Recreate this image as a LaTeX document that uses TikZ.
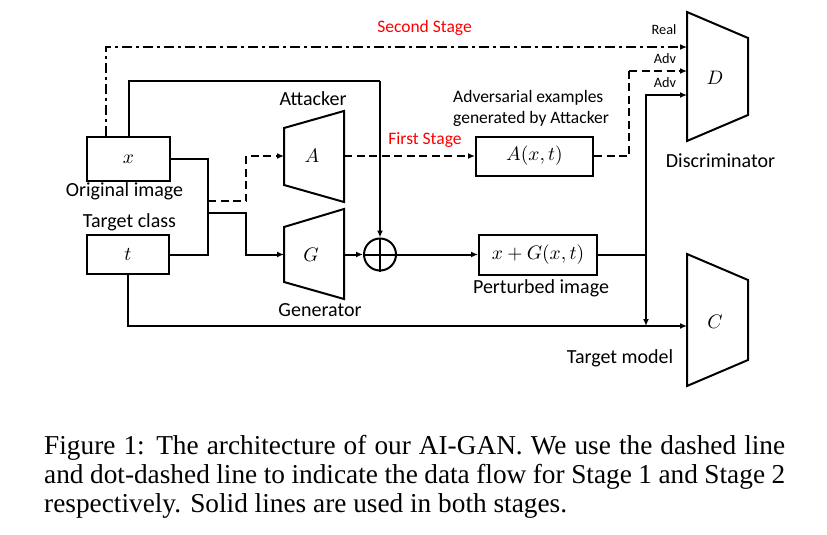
\documentclass[tikz,border=0pt]{standalone}
\usepackage{fontspec}
\usepackage{graphicx}
\setmainfont{Carlito}
\newfontfamily\capfont{Liberation Serif}
\usetikzlibrary{arrows.meta,calc}
\definecolor{stagered}{RGB}{255,0,0}
\newcommand{\mylab}[1]{\scalebox{1.95}{$#1$}}
\tikzset{
  ln/.style={line width=2pt},
  arr/.style={ln,-{Latex[length=7pt,width=6pt]}},
  dsh/.style={dash pattern=on 8pt off 4.5pt},
  dshdot/.style={line width=2.8pt,dash pattern=on 10pt off 4pt on 3pt off 4pt},
  box/.style={draw,ln,rectangle,inner sep=0pt},
  lbl/.style={font=\fontsize{20}{24}\selectfont,inner sep=0pt},
  slbl/.style={font=\fontsize{17.5}{21}\selectfont,inner sep=0pt},
  tlbl/.style={font=\fontsize{14.3}{17}\selectfont,inner sep=0pt},
  redlbl/.style={slbl,text=stagered},
  mth/.style={inner sep=0pt},
  trap/.style={ln,line join=miter},
  captxt/.style={anchor=base west,inner sep=0pt,font=\capfont\fontsize{27.3}{29}\selectfont},
}
\begin{document}
\begin{tikzpicture}[x=1pt,y=-1pt]
\useasboundingbox (0,0) rectangle (827,535);

% boxes
\node[box,minimum width=83pt,minimum height=44pt,mth] (xbox) at (128.5,159) {\mylab{x}};
\node[box,minimum width=82pt,minimum height=39pt,mth] (tbox) at (128,254.5) {\mylab{t}};
\node[box,minimum width=117pt,minimum height=39pt,mth] (ax) at (534.5,156) {\mylab{A(x,t)}};
\node[box,minimum width=118pt,minimum height=40pt,mth] (xg) at (538,254.5) {\mylab{x+G(x,t)}};
\node[draw,ln,circle,minimum size=32pt,inner sep=0pt] (sum) at (380,254.5) {};
\draw[ln] (sum.north) -- (sum.south) (sum.west) -- (sum.east);

% trapezoids
\draw[trap] (284,128) -- (344,111) -- (344,202) -- (284,185) -- cycle;
\draw[trap] (284,227) -- (344,209) -- (344,299) -- (284,282) -- cycle;
\draw[trap] (687,12) -- (748,38) -- (748,115) -- (687,141) -- cycle;
\draw[trap] (687,254) -- (748,280) -- (748,360) -- (687,386) -- cycle;
\node[mth] (A) at (312,156) {\mylab{A}};
\node[mth] (G) at (311,255) {\mylab{G}};
\node[mth] (D) at (715,78) {\mylab{D}};
\node[mth] (C) at (715,322) {\mylab{C}};

% connection points
\coordinate (Ain) at (284,156);
\coordinate (Aout) at (344,156);
\coordinate (Gin) at (284,254.5);
\coordinate (Gout) at (344,254.5);
\coordinate (Dreal) at (687,47);
\coordinate (Dadv1) at (687,71);
\coordinate (Dadv2) at (687,95);
\coordinate (Cin) at (687,326);
\coordinate (top1) at (380,81);
\coordinate (jt) at (208,254.5);
\coordinate (ja) at (208,201);
\coordinate (ba) at (246,201);
\coordinate (jg) at (208,213);
\coordinate (bg) at (246,213);
\coordinate (jp) at (646,254.5);
\coordinate (jc) at (646,326);
\coordinate (ka) at (629,71);

% connectors
\draw[arr,dshdot] ([xshift=-22.5pt]xbox.north) |- (Dreal);
\draw[ln] (xbox.north) |- (top1);
\draw[arr] (top1) -- (sum.north);
\draw[ln] (xbox.east) -| (jt) -- (tbox.east);
\draw[arr,dsh] (ja) -- (ba) |- (Ain);
\draw[arr] (jg) -- (bg) |- (Gin);
\draw[arr] (Gout) -- (sum.west);
\draw[arr] (sum.east) -- (xg.west);
\draw[ln] (xg.east) -- (jp);
\draw[arr] (jp) |- (Dadv2);
\draw[arr] (jp) -- (jc);
\draw[arr] (tbox.south) |- (Cin);
\draw[arr,dsh] (Aout) -- (ax.west);
\draw[ln,dsh] (ax.east) -| (ka);
\draw[arr,dsh] (ka) -- (Dadv1);

% labels
\node[lbl] (l1) at (124.5,191) {Original image};
\node[lbl] (l2) at (129.5,222.5) {Target class};
\node[lbl] (l3) at (313,99) {Attacker};
\node[lbl] (l4) at (320,310) {Generator};
\node[lbl] (l5) at (541,288) {Perturbed image};
\node[lbl] (l6) at (620,358) {Target model};
\node[lbl] (l7) at (720.5,161) {Discriminator};
\node[slbl,align=left,anchor=west] (l8) at (453,108.5) {Adversarial examples\\generated by Attacker};
\node[redlbl] (l9) at (425,140) {First Stage};
\node[redlbl] (l10) at (424.5,28) {Second Stage};
\node[tlbl] (l11) at (664,30) {Real};
\node[tlbl] (l12) at (665,59) {Adv};
\node[tlbl] (l13) at (665,83) {Adv};

% caption
\node[captxt] (cap1) at (44,454)
  {\makebox[741pt][s]{Figure 1: The architecture of our AI-GAN. We use the dashed line}};
\node[captxt] (cap2) at (44,483.5)
  {\makebox[741pt][s]{and dot-dashed line to indicate the data flow for Stage 1 and Stage 2}};
\node[captxt] (cap3) at (44,512.5)
  {respectively. Solid lines are used in both stages.};
\end{tikzpicture}
\end{document}
